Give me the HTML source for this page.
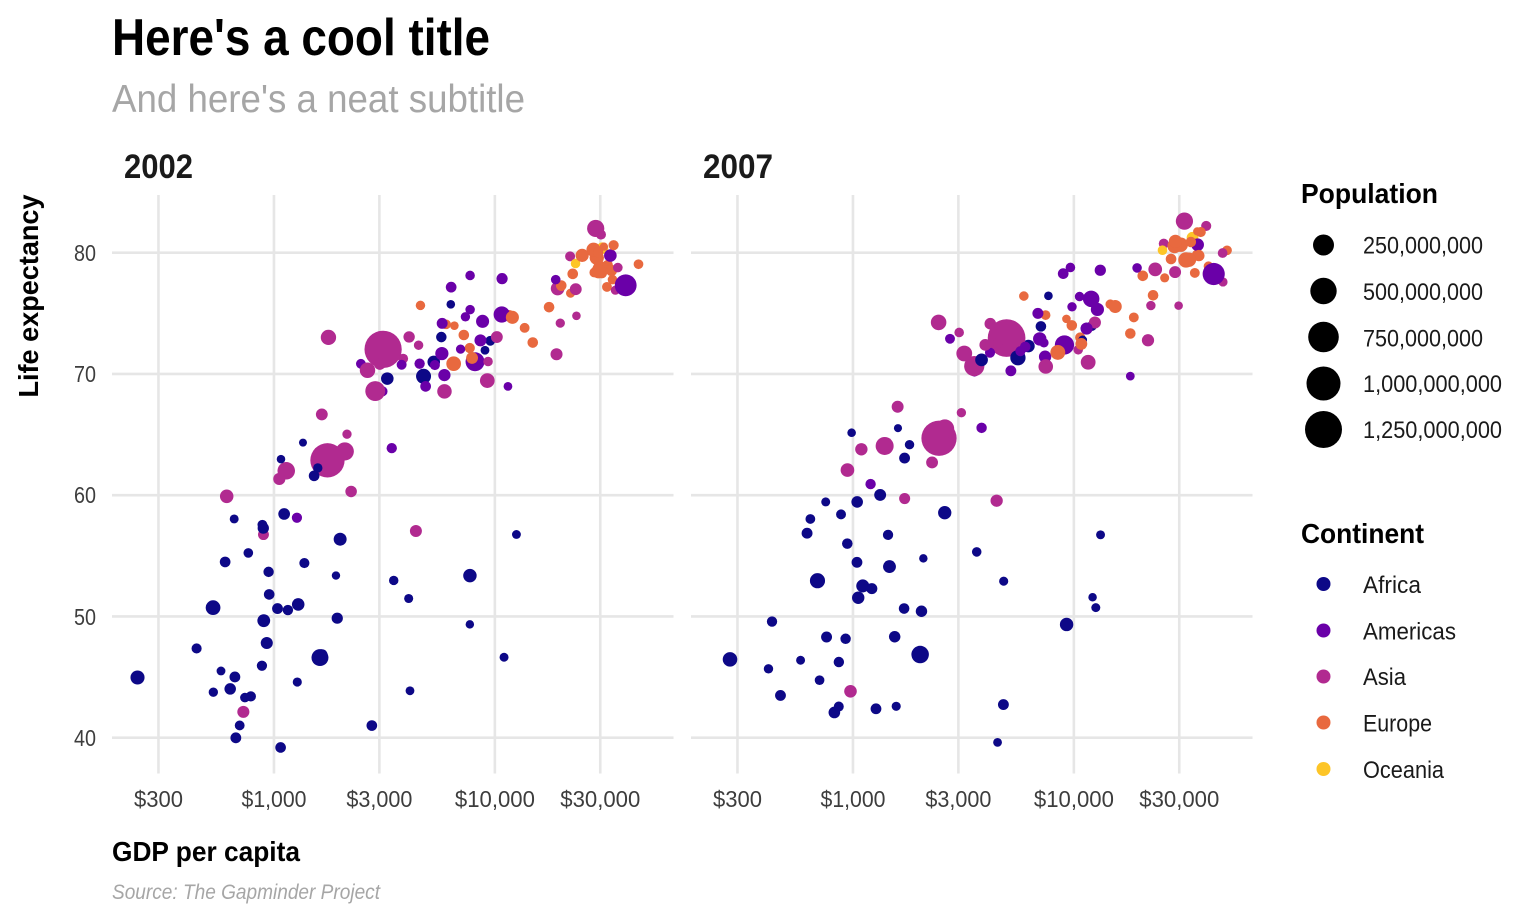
<!DOCTYPE html>
<html>
<head>
<meta charset="utf-8">
<style>
html,body{margin:0;padding:0;background:#fff;}
svg{display:block;}
text{font-family:"Liberation Sans",Arial,sans-serif;}
</style>
</head>
<body>
<svg id="chart" xmlns="http://www.w3.org/2000/svg" width="1536" height="921" viewBox="0 0 1536 921">
<rect width="1536" height="921" fill="#ffffff"/>
<!-- Titles -->
<text x="112" y="55" font-size="52" font-weight="bold" fill="#000" textLength="378" lengthAdjust="spacingAndGlyphs">Here's a cool title</text>
<text x="112" y="112" font-size="39" fill="#A6A6A6" textLength="413" lengthAdjust="spacingAndGlyphs">And here's a neat subtitle</text>
<!-- strips -->
<text x="124" y="178" font-size="34" font-weight="bold" fill="#1A1A1A" textLength="69" lengthAdjust="spacingAndGlyphs">2002</text>
<text x="703" y="178" font-size="34" font-weight="bold" fill="#1A1A1A" textLength="70" lengthAdjust="spacingAndGlyphs">2007</text>
<!-- grid -->
<g id="grid" stroke="#E6E6E6" stroke-width="2.6" fill="none"></g>
<!-- points -->
<g id="pts"></g>
<!-- y axis title -->
<text transform="translate(38,296) rotate(-90)" text-anchor="middle" font-size="28" font-weight="bold" fill="#000" textLength="203" lengthAdjust="spacingAndGlyphs">Life expectancy</text>
<!-- y tick labels -->
<g font-size="23" fill="#3D3D3D" text-anchor="end">
<text x="96" y="261" textLength="22" lengthAdjust="spacingAndGlyphs">80</text>
<text x="96" y="382" textLength="22" lengthAdjust="spacingAndGlyphs">70</text>
<text x="96" y="503" textLength="22" lengthAdjust="spacingAndGlyphs">60</text>
<text x="96" y="625" textLength="22" lengthAdjust="spacingAndGlyphs">50</text>
<text x="96" y="746" textLength="22" lengthAdjust="spacingAndGlyphs">40</text>
</g>
<!-- x tick labels -->
<g font-size="23" fill="#3D3D3D" text-anchor="middle">
<text x="158.5" y="807" textLength="49" lengthAdjust="spacingAndGlyphs">$300</text>
<text x="274" y="807" textLength="65" lengthAdjust="spacingAndGlyphs">$1,000</text>
<text x="379.4" y="807" textLength="66" lengthAdjust="spacingAndGlyphs">$3,000</text>
<text x="494.9" y="807" textLength="80" lengthAdjust="spacingAndGlyphs">$10,000</text>
<text x="600.3" y="807" textLength="80" lengthAdjust="spacingAndGlyphs">$30,000</text>
<text x="737.5" y="807" textLength="49" lengthAdjust="spacingAndGlyphs">$300</text>
<text x="853" y="807" textLength="65" lengthAdjust="spacingAndGlyphs">$1,000</text>
<text x="958.4" y="807" textLength="66" lengthAdjust="spacingAndGlyphs">$3,000</text>
<text x="1073.9" y="807" textLength="80" lengthAdjust="spacingAndGlyphs">$10,000</text>
<text x="1179.3" y="807" textLength="80" lengthAdjust="spacingAndGlyphs">$30,000</text>
</g>
<!-- x axis title + caption -->
<text x="112" y="861" font-size="28" font-weight="bold" fill="#000" textLength="188" lengthAdjust="spacingAndGlyphs">GDP per capita</text>
<text x="112" y="899" font-size="21" font-style="italic" fill="#A6A6A6" textLength="268" lengthAdjust="spacingAndGlyphs">Source: The Gapminder Project</text>
<!-- Legend: population -->
<text x="1301" y="203" font-size="28" font-weight="bold" fill="#000" textLength="137" lengthAdjust="spacingAndGlyphs">Population</text>
<g fill="#000">
<circle cx="1323.5" cy="245" r="10.5"/>
<circle cx="1323.5" cy="291" r="13.2"/>
<circle cx="1323.5" cy="337" r="15.3"/>
<circle cx="1323.5" cy="383.5" r="17"/>
<circle cx="1323.5" cy="429.5" r="18.5"/>
</g>
<g font-size="24" fill="#1A1A1A">
<text x="1363" y="253.5" textLength="120" lengthAdjust="spacingAndGlyphs">250,000,000</text>
<text x="1363" y="300" textLength="120" lengthAdjust="spacingAndGlyphs">500,000,000</text>
<text x="1363" y="346.5" textLength="120" lengthAdjust="spacingAndGlyphs">750,000,000</text>
<text x="1363" y="392" textLength="139" lengthAdjust="spacingAndGlyphs">1,000,000,000</text>
<text x="1363" y="438" textLength="139" lengthAdjust="spacingAndGlyphs">1,250,000,000</text>
</g>
<!-- Legend: continent -->
<text x="1301" y="543" font-size="28" font-weight="bold" fill="#000" textLength="123" lengthAdjust="spacingAndGlyphs">Continent</text>
<circle cx="1323.5" cy="584" r="7" fill="#0D0887"/>
<circle cx="1323.5" cy="630.5" r="7" fill="#6A00A8"/>
<circle cx="1323.5" cy="676.5" r="7" fill="#B12A90"/>
<circle cx="1323.5" cy="722.5" r="7" fill="#E8693F"/>
<circle cx="1323.5" cy="769" r="7" fill="#FDC527"/>
<g font-size="24" fill="#1A1A1A">
<text x="1363" y="593" textLength="58" lengthAdjust="spacingAndGlyphs">Africa</text>
<text x="1363" y="639.5" textLength="93" lengthAdjust="spacingAndGlyphs">Americas</text>
<text x="1363" y="685" textLength="43" lengthAdjust="spacingAndGlyphs">Asia</text>
<text x="1363" y="731.5" textLength="69" lengthAdjust="spacingAndGlyphs">Europe</text>
<text x="1363" y="778" textLength="81" lengthAdjust="spacingAndGlyphs">Oceania</text>
</g>
</svg>
<script>
(function(){
var NS="http://www.w3.org/2000/svg";
var D="As,726.734,42.129,25268405,974.58,43.828,31889923\n"+
"Eu,4604.212,75.651,3508512,5937.03,76.423,3600523\n"+
"Af,5288.04,70.994,31287142,6223.367,72.301,33333216\n"+
"Af,2773.287,41.003,10866106,4797.231,42.731,12420476\n"+
"Am,8797.641,74.34,38331121,12779.38,75.32,40301927\n"+
"Oc,30687.755,80.37,19546792,34435.367,81.235,20434176\n"+
"Eu,32417.608,78.98,8148312,36126.493,79.829,8199783\n"+
"As,23403.559,74.795,656397,29796.048,75.635,708573\n"+
"As,1136.39,62.013,135656790,1391.254,64.062,150448339\n"+
"Eu,30485.884,78.32,10311970,33692.605,79.441,10392226\n"+
"Af,1372.878,54.406,7026113,1441.285,56.728,8078314\n"+
"Am,3413.263,63.883,8445134,3822.137,65.554,9119152\n"+
"Eu,6018.975,74.09,4165416,7446.299,74.852,4552198\n"+
"Af,11003.605,46.634,1630347,12569.852,50.728,1639131\n"+
"Am,8131.213,71.006,179914212,9065.801,72.39,190010647\n"+
"Eu,7696.778,72.14,7661799,10680.793,73.005,7322858\n"+
"Af,1037.645,50.65,12251209,1217.033,52.295,14326203\n"+
"Af,446.403,47.36,7021078,430.071,49.58,8390505\n"+
"As,896.226,56.752,12926707,1713.779,59.723,14131858\n"+
"Af,1934.011,49.856,15929988,2042.095,50.43,17696293\n"+
"Am,33328.965,79.77,31902268,36319.235,80.653,33390141\n"+
"Af,738.691,43.308,4048013,706.017,44.741,4369038\n"+
"Af,1156.182,50.525,8835739,1704.064,50.651,10238807\n"+
"Am,10778.784,77.86,15497046,13171.639,78.553,16284741\n"+
"As,3119.281,72.028,1280400000,4959.115,72.961,1318683096\n"+
"Am,5755.26,71.682,41008227,7006.58,72.889,44227550\n"+
"Af,1075.812,62.974,614382,986.148,65.152,710960\n"+
"Af,241.166,44.966,55379852,277.552,46.462,64606759\n"+
"Af,3484.065,52.97,3328795,3632.558,55.322,3800610\n"+
"Am,7723.447,78.123,3834934,9645.061,78.782,4133884\n"+
"Af,1648.8,46.832,16252726,1544.75,48.328,18013409\n"+
"Eu,11628.389,74.876,4481020,14619.223,75.748,4493312\n"+
"Am,6340.647,77.158,11226999,8948.103,78.273,11416987\n"+
"Eu,17596.21,75.51,10256295,22833.309,76.486,10228744\n"+
"Eu,32166.5,77.18,5374693,35278.419,78.332,5468120\n"+
"Af,1908.261,53.373,447416,2082.482,54.791,496374\n"+
"Am,4563.808,70.847,8650322,6025.375,72.235,9319622\n"+
"Am,5773.045,74.173,12921234,6873.262,74.994,13755680\n"+
"Af,4754.604,69.806,73312559,5581.181,71.338,80264543\n"+
"Am,5351.569,70.734,6353681,5728.354,71.878,6939688\n"+
"Af,7703.496,49.348,495627,12154.09,51.579,551201\n"+
"Af,765.35,55.24,4414865,641.37,58.04,4906585\n"+
"Af,530.054,50.725,67946797,690.806,52.947,76511887\n"+
"Eu,28204.591,78.37,5193039,33207.084,79.313,5238460\n"+
"Eu,28926.032,79.59,59925035,30470.017,80.657,61083916\n"+
"Af,12521.714,56.761,1299304,13206.485,56.735,1454867\n"+
"Af,660.586,58.041,1457766,752.75,59.448,1688359\n"+
"Eu,30035.802,78.67,82350671,32170.374,79.406,82400996\n"+
"Af,1111.985,58.453,20550751,1327.609,60.022,22873338\n"+
"Eu,22514.255,78.256,10603863,27538.412,79.483,10706290\n"+
"Am,4858.348,68.978,11178650,5186.05,70.259,12572928\n"+
"Af,945.583,53.676,8807818,942.654,56.007,9947814\n"+
"Af,575.705,45.504,1332459,579.232,46.388,1472041\n"+
"Am,1270.365,58.137,7607651,1201.637,60.916,8502814\n"+
"Am,3099.729,68.565,6677328,3548.331,70.198,7483763\n"+
"As,30209.015,81.495,6762476,39724.979,82.208,6980412\n"+
"Eu,14843.936,72.59,10083313,18008.944,73.338,9956108\n"+
"Eu,31163.202,80.5,288030,36180.789,81.757,301931\n"+
"As,1746.769,62.879,1034172547,2452.21,64.698,1110396331\n"+
"As,2873.913,68.588,211060000,3540.652,70.65,223547000\n"+
"As,9240.762,69.451,66907826,11605.714,70.964,69453570\n"+
"As,4390.717,57.046,24001816,4471.062,59.545,27499638\n"+
"Eu,34077.049,77.783,3879155,40675.996,78.885,4109086\n"+
"As,21905.595,79.696,6029529,25523.277,80.745,6426679\n"+
"Eu,27968.098,80.24,57926999,28569.72,80.546,58147733\n"+
"Am,6994.775,72.047,2664659,7320.88,72.567,2780132\n"+
"As,28604.592,82,127065841,31656.068,82.603,127467972\n"+
"As,3844.918,71.263,5307470,4519.461,72.535,6053193\n"+
"Af,1287.515,50.992,31386842,1463.249,54.11,35610177\n"+
"As,1646.758,66.662,22215365,1593.065,67.297,23301725\n"+
"As,19233.988,77.045,47969150,23348.14,78.623,49044790\n"+
"As,35110.106,76.904,2111561,47306.99,77.588,2505559\n"+
"As,9313.939,71.028,3677780,10461.059,71.993,3921278\n"+
"Af,1275.185,44.593,2046772,1569.331,42.592,2012649\n"+
"Af,531.482,43.753,2814651,414.507,45.678,3193942\n"+
"Af,9534.677,72.737,5368585,12057.499,73.952,6036914\n"+
"Af,894.637,57.286,16473477,1044.77,59.443,19167654\n"+
"Af,665.424,45.009,11824495,759.35,48.303,13327079\n"+
"As,10206.978,73.044,22662365,12451.656,74.241,24821286\n"+
"Af,951.409,51.818,10580176,1042.582,54.467,12031795\n"+
"Af,1579.02,62.247,2828858,1803.151,64.164,3270065\n"+
"Af,9021.816,71.954,1200206,10956.991,72.801,1250882\n"+
"Am,10742.441,74.902,102479927,11977.575,76.195,108700891\n"+
"As,2140.739,65.033,2674234,3095.772,66.803,2874127\n"+
"Eu,6557.194,73.981,720230,9253.896,74.543,684736\n"+
"Af,3258.496,69.615,31167783,3820.175,71.164,33757175\n"+
"Af,633.618,44.026,18473780,823.686,42.082,19951656\n"+
"As,611,59.908,45598081,944,62.069,47761980\n"+
"Af,4072.324,51.479,1972153,4811.06,52.906,2055080\n"+
"As,1057.206,61.34,25873917,1091.36,63.785,28901790\n"+
"Eu,33724.758,78.53,16122830,36797.933,79.762,16570613\n"+
"Oc,23189.801,79.11,3908037,25185.009,80.204,4115771\n"+
"Am,2474.549,70.836,5146848,2749.321,72.899,5675356\n"+
"Af,601.075,54.496,11140655,619.677,56.867,12894865\n"+
"Af,1615.286,46.608,119901274,2013.977,46.859,135031164\n"+
"Eu,44683.975,79.05,4535591,49357.19,80.196,4627926\n"+
"As,19774.837,74.193,2713462,22316.193,75.64,3204897\n"+
"As,2092.712,63.61,153403524,2605.948,65.483,169270617\n"+
"Am,7356.032,74.712,2990875,9809.186,75.537,3242173\n"+
"Am,3783.675,70.755,5884491,4172.838,71.752,6667147\n"+
"Am,5909.02,69.906,26769436,7408.906,71.421,28674757\n"+
"As,2650.921,70.303,82995088,3190.481,71.688,91077287\n"+
"Eu,12002.239,74.67,38625976,15389.925,75.563,38518241\n"+
"Eu,19970.908,77.29,10433867,20509.648,78.098,10642836\n"+
"Am,18855.606,77.778,3859606,19328.709,78.746,3942491\n"+
"Af,6316.165,75.744,743981,7670.123,76.442,798094\n"+
"Eu,7885.36,71.322,22404337,10808.476,72.476,22276056\n"+
"Af,785.653,43.413,7852401,863.089,46.242,8860588\n"+
"Af,1353.092,64.337,170372,1598.435,65.528,199579\n"+
"As,19014.541,71.626,24501530,21654.832,72.777,27601038\n"+
"Af,1519.635,61.6,10870037,1712.473,63.062,12267493\n"+
"Eu,7236.075,73.213,10111559,9786.535,74.002,10150265\n"+
"Af,699.489,41.012,5359092,862.541,42.568,6144562\n"+
"As,36023.105,78.77,4197776,47143.18,79.972,4553009\n"+
"Eu,13638.778,73.8,5410052,18678.314,74.663,5447502\n"+
"Eu,22011.671,76.66,2011497,25768.258,77.926,2009245\n"+
"Af,882.082,45.936,7753310,926.141,48.159,9118773\n"+
"Af,7710.946,53.365,44433622,9269.658,49.339,43997828\n"+
"Eu,24835.472,79.78,40152517,28821.064,80.941,40448191\n"+
"As,3015.379,70.815,19576783,3970.095,72.396,20378239\n"+
"Af,1993.398,56.369,37090298,2602.395,58.556,42292929\n"+
"Af,4128.117,43.869,1130269,4513.481,39.613,1133066\n"+
"Eu,29341.631,80.04,8954175,33859.748,80.884,9031088\n"+
"Eu,34480.958,80.62,7361757,37506.419,81.701,7554661\n"+
"As,4090.925,73.053,17155814,4184.548,74.143,19314747\n"+
"As,23235.423,76.99,22454239,28718.277,78.4,23174294\n"+
"Af,899.074,49.651,34593779,1107.482,52.517,38139640\n"+
"As,5913.188,68.564,62806748,7458.396,70.616,65068149\n"+
"Af,886.221,57.561,4977378,882.97,58.42,5701579\n"+
"Am,11460.6,68.976,1101832,18008.509,69.819,1056608\n"+
"Af,5722.896,73.042,9770575,7092.923,73.923,10276158\n"+
"Eu,6508.086,70.845,67308928,8458.276,71.777,71158647\n"+
"Af,927.721,47.813,24739869,1056.38,51.542,29170398\n"+
"Eu,29478.999,78.471,59912431,33203.261,79.425,60776238\n"+
"Am,39097.1,77.31,287675526,42951.653,78.242,301139947\n"+
"Am,7727.002,75.307,3363085,10611.463,76.384,3447496\n"+
"Am,8605.048,72.766,24287670,11415.806,73.747,26084662\n"+
"As,1764.457,73.017,80908147,2441.577,74.249,85262356\n"+
"As,4515.488,72.37,3389578,3025.35,73.422,4018332\n"+
"As,2234.821,60.308,18701257,2280.77,62.698,22211743\n"+
"Af,1071.614,39.193,10595811,1271.212,42.384,11746035\n"+
"Af,672.039,39.989,11926563,469.709,43.487,12311143";
var col={Af:"#0D0887",Am:"#6A00A8",As:"#B12A90",Eu:"#E8693F",Oc:"#FDC527"};
var LO=2.26677,K=220.9,PMIN=170372,PMAX=1318683096;
function X(v,off){return off+(Math.log(v)/Math.LN10-LO)*K;}
function Y(v){return 773.8-(v-37.0225)*12.125;}
function R(p){return (8+29.7*Math.sqrt(Math.max(0,(p-PMIN)/(PMAX-PMIN))))/2;}
var grid=document.getElementById("grid");
var offs=[112,691];
var W=561.5;
var ticks=[300,1000,3000,10000,30000];
var ys=[40,50,60,70,80];
offs.forEach(function(o){
  ys.forEach(function(v){
    var l=document.createElementNS(NS,"line");
    l.setAttribute("x1",o);l.setAttribute("x2",o+W);
    l.setAttribute("y1",Y(v));l.setAttribute("y2",Y(v));
    grid.appendChild(l);
  });
  ticks.forEach(function(t){
    var l=document.createElementNS(NS,"line");
    var x=X(t,o);
    l.setAttribute("x1",x);l.setAttribute("x2",x);
    l.setAttribute("y1",195);l.setAttribute("y2",773.5);
    grid.appendChild(l);
  });
});
var rows=D.split("\n").map(function(s){return s.split(",");});
var g=document.getElementById("pts");
[0,1].forEach(function(pi){
  var o=offs[pi];
  rows.forEach(function(r){
    var b=pi===0?1:4;
    var gd=parseFloat(r[b]),le=parseFloat(r[b+1]),pp=parseFloat(r[b+2]);
    var c=document.createElementNS(NS,"circle");
    c.setAttribute("cx",X(gd,o).toFixed(2));
    c.setAttribute("cy",Y(le).toFixed(2));
    c.setAttribute("r",R(pp).toFixed(2));
    c.setAttribute("fill",col[r[0]]);
    g.appendChild(c);
  });
});
})();
</script>
</body>
</html>
